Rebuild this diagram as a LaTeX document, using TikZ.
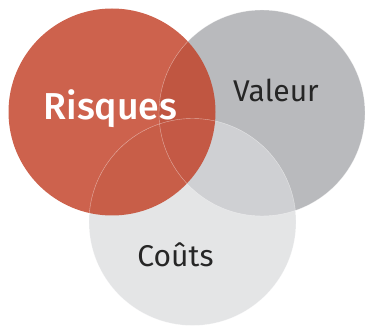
\documentclass[tikz,border=0pt]{standalone}
\usepackage{fontspec}
\setmainfont{Fira Sans}
\newfontfamily\firamed{Fira Sans Medium}
\usepackage{tikz}
\usepackage{xcolor}
\definecolor{risk}{RGB}{194,64,38}
\definecolor{value}{RGB}{185,186,189}
\definecolor{cost}{RGB}{217,218,220}

\begin{document}
\begin{tikzpicture}[x=1pt,y=1pt,
		ring/.style={draw=white,draw opacity=0.5,line width=0.4pt},
		label/.style={inner sep=0pt,anchor=base}]
		\useasboundingbox (0,0) rectangle (365,326);
		%value circle (bottom)
		\fill[value] (262,213) circle (103);
		%cost circle
		\fill[cost,fill opacity=0.71] (192.5,104) circle (103.5);
		%risk circle (top)
		\fill[risk,fill opacity=0.82] (112,214) circle (103.5);
		%thin edges
		\draw[ring] (262,213) circle (103);
		\draw[ring] (192.5,104) circle (103.5);
		%labels
		\node[label,text=white,font=\firamed\fontsize{37.5}{37.5}\selectfont] (risques) at (110.5,206) {Risques};
		\node[label,text=black!85,font=\fontsize{30}{30}\selectfont] (valeur) at (276,224) {Valeur};
		\node[label,text=black!85,font=\fontsize{30}{30}\selectfont] (couts) at (175.5,59) {Coûts};
\end{tikzpicture}
\end{document}
